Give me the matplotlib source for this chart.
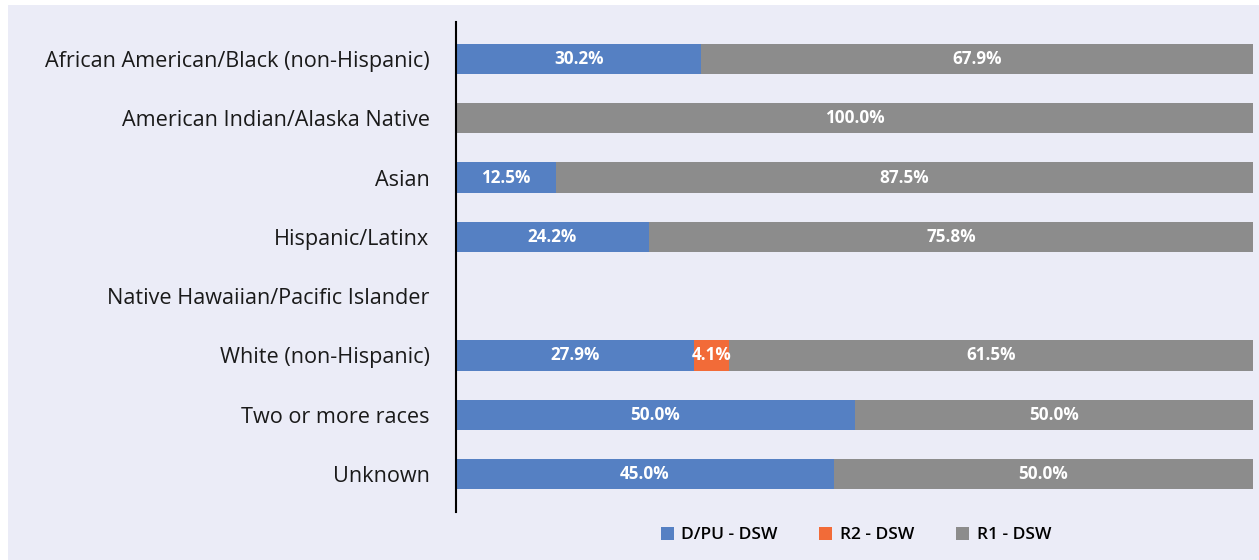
import matplotlib.pyplot as plt
from matplotlib.patches import Rectangle
import numpy as np

categories = ["African American/Black (non-Hispanic)", "American Indian/Alaska Native",
              "Asian", "Hispanic/Latinx", "Native Hawaiian/Pacific Islander",
              "White (non-Hispanic)", "Two or more races", "Unknown"]
dpu = [30.2, 0.0, 12.5, 24.2, 0.0, 27.9, 50.0, 45.0]
r2 = [0.0, 0.0, 0.0, 0.0, 0.0, 4.1, 0.0, 0.0]
r1 = [67.9, 100.0, 87.5, 75.8, 0.0, 61.5, 50.0, 50.0]

series = [("D/PU - DSW", dpu, "#5580C3"), ("R2 - DSW", r2, "#F26B38"), ("R1 - DSW", r1, "#8C8C8C")]
bg = "#EBECF7"

plt.rcParams['font.family'] = ['Open Sans', 'DejaVu Sans']

fig = plt.figure(figsize=(12.59, 5.6), dpi=100)
fig.patch.set_facecolor("white")
fig.patches.append(Rectangle((8 / 1259, 0), 1, 1 - 5 / 560, transform=fig.transFigure,
                             facecolor=bg, edgecolor="none", zorder=-10))
ax = fig.add_axes([456 / 1259, 48 / 560, 797 / 1259, 490 / 560])
ax.set_facecolor(bg)

totals = np.array(dpu) + np.array(r2) + np.array(r1)
totals[totals == 0] = 1
y = np.arange(len(categories))
left = np.zeros(len(categories))
for name, vals, color in series:
    vals = np.array(vals)
    share = vals / totals * 100
    ax.barh(y, share, left=left, height=0.51, color=color, label=name)
    for i, v in enumerate(vals):
        if v > 0:
            ax.text(left[i] + share[i] / 2, y[i], f"{v:.1f}%", ha="center", va="center",
                    color="white", fontsize=12.3, fontweight="bold")
    left += share

ax.set_xlim(0, 100)
ax.set_ylim(7.64, -0.624)
ax.set_yticks(y)
ax.set_yticklabels(categories, fontsize=15.6, color="#1a1a1a")
ax.tick_params(axis="y", length=0, pad=19)
ax.set_xticks([])
for s in ["top", "right", "bottom"]:
    ax.spines[s].set_visible(False)
ax.spines["left"].set_color("black")
ax.spines["left"].set_linewidth(1.5)

leg = fig.legend(loc="center", bbox_to_anchor=(856 / 1259, 1 - 535 / 560), ncol=3,
                 frameon=False, fontsize=12.5, handlelength=0.75, handleheight=0.75,
                 columnspacing=2.4, handletextpad=0.45)
for t in leg.get_texts():
    t.set_fontweight("semibold")

fig.savefig("out.png", dpi=100, facecolor=fig.get_facecolor())
